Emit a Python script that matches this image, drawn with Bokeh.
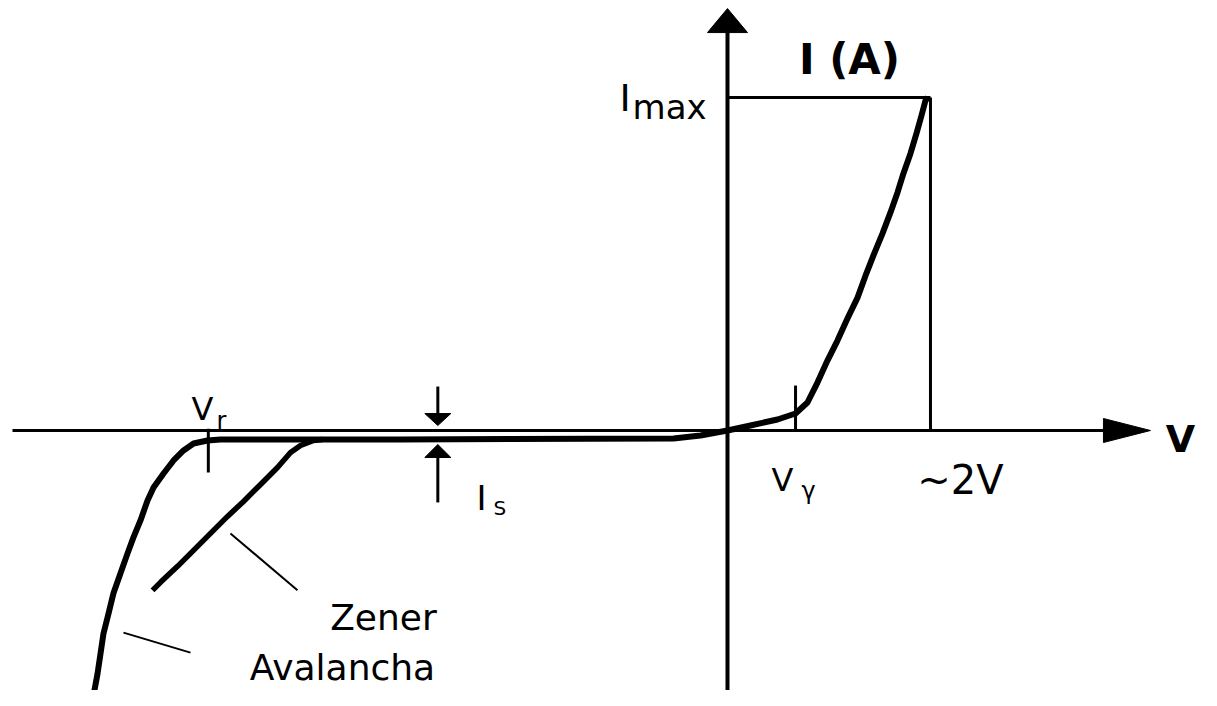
from bokeh.plotting import figure
from bokeh.models import Range1d, Label
from bokeh.embed import file_html
from bokeh.resources import INLINE

# ---------------- data (V in volts, I relative to I_max) ----------------
# Main characteristic: avalanche breakdown branch -> reverse leakage -> forward conduction
main_v = [-6.216, -6.176, -6.147, -6.118, -6.069, -6.020, -5.951, -5.882, -5.824,
          -5.755, -5.686, -5.627, -5.529, -5.431, -5.333, -5.235, -5.098, -4.971,
          -3.206, -0.529, -0.265, 0.000, 0.225, 0.490, 0.667, 0.784, 0.882, 0.980,
          1.078, 1.176, 1.275, 1.353, 1.431, 1.520, 1.598, 1.667, 1.725, 1.794,
          1.853, 1.902, 1.941, 1.965]
main_i = [-0.796, -0.730, -0.670, -0.610, -0.550, -0.489, -0.429, -0.369, -0.321,
          -0.270, -0.210, -0.171, -0.129, -0.090, -0.060, -0.039, -0.030, -0.027,
          -0.027, -0.024, -0.015, 0.000, 0.015, 0.033, 0.051, 0.084, 0.144, 0.210,
          0.270, 0.336, 0.399, 0.465, 0.526, 0.592, 0.655, 0.715, 0.772, 0.832,
          0.892, 0.946, 0.991, 1.000]

# Zener breakdown branch
zener_v = [-3.971, -4.059, -4.186, -4.284, -4.412, -4.578, -4.745, -4.902, -5.069,
           -5.235, -5.392, -5.559, -5.637]
zener_i = [-0.027, -0.030, -0.045, -0.066, -0.111, -0.162, -0.213, -0.258, -0.309,
           -0.360, -0.408, -0.456, -0.480]

V_R = -5.09       # breakdown voltage marker
V_GAMMA = 0.667   # threshold voltage marker
V_MAX = 1.99      # ~2V
I_MAX = 1.0
I_S_X = -2.84     # where the I_S arrows are drawn

# ---------------- figure ----------------
W, H = 1201, 690
X0, X1 = -7.1275, 4.6471
Y0, Y1 = -0.78078, 1.29129
DX = (X1 - X0) / W   # data per pixel (x)
DY = (Y1 - Y0) / H   # data per pixel (y)

p = figure(width=W, height=H, output_backend="svg", toolbar_location=None,
           x_range=Range1d(X0, X1), y_range=Range1d(Y0, Y1),
           x_axis_type=None, y_axis_type=None, min_border=0,
           background_fill_color="white", border_fill_color="white")
p.grid.visible = False
p.outline_line_color = None

K = "black"

# Axes with arrowheads
p.line([-7.010, 3.70], [0, 0], line_color=K, line_width=3)
hx_base, hx_tip = 3.686, 4.147
p.patch([hx_base, hx_tip, hx_base], [12 * DY, 0, -12 * DY], fill_color=K, line_color=K)

p.line([0, 0], [Y0 - 0.1, 1.20], line_color=K, line_width=4)
vy_base, vy_tip = 1.195, 1.267
p.patch([-20 * DX, 0, 20 * DX], [vy_base, vy_tip, vy_base], fill_color=K, line_color=K)

# I_max box
p.line([0, V_MAX], [I_MAX, I_MAX], line_color=K, line_width=3)
p.line([V_MAX, V_MAX], [I_MAX, 0], line_color=K, line_width=3)

# Curves
p.line(main_v, main_i, line_color=K, line_width=6, line_join="round")
p.line(zener_v, zener_i, line_color=K, line_width=5.5, line_join="round")

# Ticks for V_r and V_gamma
p.line([V_R, V_R], [0.005, -0.126], line_color=K, line_width=3)
p.line([V_GAMMA, V_GAMMA], [0.135, 0], line_color=K, line_width=3)

# I_S arrows
p.line([I_S_X, I_S_X], [0.132, 0.045], line_color=K, line_width=3)
p.patch([I_S_X - 13 * DX, I_S_X, I_S_X + 13 * DX], [0.051, 0.015, 0.051], fill_color=K, line_color=K)
p.line([I_S_X, I_S_X], [-0.216, -0.075], line_color=K, line_width=3)
p.patch([I_S_X - 13 * DX, I_S_X, I_S_X + 13 * DX], [-0.081, -0.042, -0.081], fill_color=K, line_color=K)

# Leader lines
p.line([-4.873, -4.216], [-0.309, -0.480], line_color=K, line_width=2)
p.line([-5.922, -5.265], [-0.607, -0.667], line_color=K, line_width=2)

# ---------------- texts ----------------
F = "DejaVu Sans"

def lab(x, y, t, size, align="left", bold=False):
    p.add_layout(Label(x=x, y=y, text=t, text_font=F, text_font_size=f"{size}px",
                       text_align=align, text_baseline="alphabetic", text_color=K,
                       text_font_style="bold" if bold else "normal"))

lab(1.196, 1.114, "I (A)", 42, "center", True)
lab(4.441, -0.027, "V", 38, "center", True)
lab(-1.059, 0.997, "I", 38)
lab(-0.931, 0.970, "max", 34)
lab(-5.147, 0.066, "V", 32, "center")
lab(-5.010, 0.030, "r", 24)
lab(0.539, -0.150, "V", 32, "center")
lab(0.725, -0.183, "γ", 24)
lab(2.284, -0.150, "~2V", 40, "center")
lab(-2.461, -0.204, "I", 34)
lab(-2.294, -0.234, "S", 20)
lab(-3.373, -0.562, "Zener", 36, "center")
lab(-3.775, -0.712, "Avalancha", 36, "center")

open("out.html", "w").write(file_html(p, INLINE))
